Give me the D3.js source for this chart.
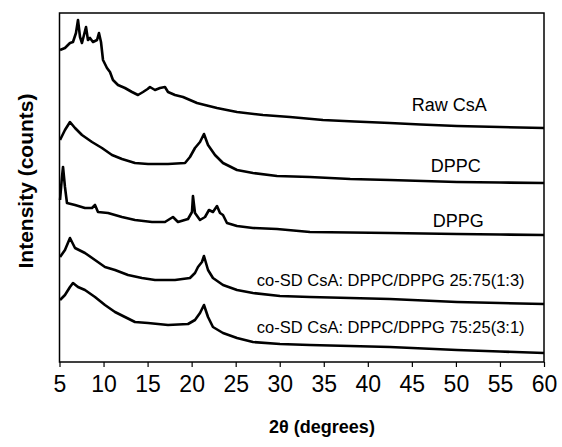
<!DOCTYPE html>
<html>
<head>
<meta charset="utf-8">
<script src="https://cdn.jsdelivr.net/npm/d3@7"></script>
<style>
    body { margin: 0; background: #fff; }
    svg { font-family: "Liberation Sans", Arial, sans-serif; }
</style>
</head>
<body>
<div id="chart"></div>
<script>
// [2θ, counts], each trace already offset in the stack
const rawCsA = [
    [5.06, 3120], [5.62, 3140], [6.19, 3190], [6.53, 3200], [6.87, 3290], [7.10, 3420],
    [7.33, 3250], [7.55, 3190], [7.78, 3270], [8.01, 3350], [8.23, 3220], [8.46, 3240],
    [8.80, 3200], [9.26, 3220], [9.48, 3290], [9.71, 3200], [9.94, 3020], [10.39, 2940],
    [10.73, 2900], [11.07, 2820], [11.64, 2770], [12.43, 2740], [13.23, 2700], [13.91, 2670],
    [14.48, 2700], [15.00, 2730], [15.27, 2750], [15.84, 2720], [16.41, 2740], [16.97, 2750],
    [17.32, 2700], [18.11, 2670], [19.02, 2650], [20.61, 2590], [21.50, 2570], [22.88, 2540],
    [24.00, 2520], [25.15, 2500], [28.10, 2470], [31.16, 2450], [34.91, 2420], [38.50, 2405],
    [42.51, 2390], [46.00, 2375], [50.12, 2360], [55.00, 2350], [60, 2340]
];
const dppc = [
    [5.06, 2220], [5.62, 2320], [6.19, 2400], [6.76, 2340], [7.55, 2270], [8.69, 2200],
    [9.82, 2140], [10.96, 2070], [12.09, 2030], [13.57, 1990], [15.05, 1980], [17.32, 1980],
    [19.25, 1990], [19.81, 2050], [20.38, 2140], [20.95, 2200], [21.40, 2280], [21.86, 2170],
    [22.65, 2070], [23.56, 1990], [25.15, 1920], [26.96, 1890], [29.69, 1860], [33.43, 1850],
    [38.00, 1830], [42.51, 1820], [50.12, 1800], [55.00, 1795], [60, 1790]
];
const dppg = [
    [5.06, 1620], [5.28, 1850], [5.40, 1950], [5.62, 1750], [5.85, 1590], [6.76, 1570],
    [7.89, 1540], [8.69, 1540], [9.03, 1570], [9.37, 1500], [10.51, 1490], [12.09, 1450],
    [13.57, 1420], [15.50, 1400], [16.97, 1400], [17.88, 1450], [18.45, 1400], [19.59, 1430],
    [20.04, 1500], [20.15, 1660], [20.38, 1490], [20.95, 1420], [21.52, 1450], [21.97, 1520],
    [22.42, 1500], [22.88, 1560], [23.22, 1490], [23.56, 1470], [24.01, 1390], [25.15, 1360],
    [26.96, 1340], [29.69, 1330], [33.43, 1300], [38.00, 1295], [42.51, 1290], [50.12, 1280],
    [55.00, 1275], [60, 1270]
];
const coSD13 = [
    [5.06, 1050], [5.62, 1120], [6.19, 1240], [6.76, 1140], [7.89, 1090], [9.03, 1020],
    [10.16, 950], [11.30, 920], [12.78, 870], [14.36, 840], [15.84, 820], [18.11, 820],
    [19.81, 840], [20.38, 890], [20.72, 950], [21.17, 1000], [21.40, 1060], [21.86, 920],
    [22.42, 840], [23.56, 770], [25.15, 720], [26.96, 690], [30.03, 660], [33.43, 650],
    [38.00, 640], [42.51, 630], [50.12, 600], [55.00, 590], [60, 580]
];
const coSD31 = [
    [5.06, 620], [5.62, 670], [6.19, 750], [6.53, 790], [7.10, 750], [7.89, 720],
    [9.03, 650], [10.16, 570], [11.30, 500], [12.43, 450], [13.57, 400], [15.05, 390],
    [17.32, 370], [19.59, 380], [20.38, 420], [20.95, 490], [21.40, 570], [21.86, 450],
    [22.42, 350], [23.56, 290], [25.15, 240], [26.96, 200], [30.03, 180], [33.43, 170],
    [38.00, 160], [42.51, 150], [50.12, 120], [55.00, 105], [60, 90]
];

const traceNames = ["Raw CsA", "DPPC", "DPPG",
    "co-SD CsA: DPPC/DPPG 25:75(1:3)", "co-SD CsA: DPPC/DPPG 75:25(3:1)"];
const traces = [rawCsA, dppc, dppg, coSD13, coSD31];
// counts level of each trace label baseline
const labelLevels = [2510, 1900, 1350, 760, 290];
const xTicks = [5, 10, 15, 20, 25, 30, 35, 40, 45, 50, 55, 60];

const size = { width: 562, height: 447 };
const margin = { top: 13, right: 18, bottom: 85, left: 59.5 };
const width = size.width - margin.left - margin.right;
const height = size.height - margin.top - margin.bottom;

const svg = d3.select("#chart")
    .append("svg")
    .attr("width", size.width)
    .attr("height", size.height);

const g = svg.append("g")
    .attr("transform", `translate(${margin.left},${margin.top})`);

const xScale = d3.scaleLinear().domain([5, 60]).range([0, width]);
const yScale = d3.scaleLinear().domain([0, 3490]).range([height, 0]);

const line = d3.line()
    .x(d => xScale(d[0]))
    .y(d => yScale(d[1]));

g.selectAll(".trace")
    .data(traces)
    .join("path")
    .attr("class", "trace")
    .attr("d", line)
    .attr("fill", "none")
    .attr("stroke", "#000")
    .attr("stroke-width", 2.6)
    .attr("stroke-linejoin", "round");

g.selectAll(".traceLabel")
    .data(traceNames)
    .join("text")
    .attr("class", "traceLabel")
    .attr("text-anchor", "end")
    .attr("x", (d, i) => i < 3 ? xScale(53.5) + [0, -6, -3][i] : xScale(57.8))
    .attr("y", (d, i) => yScale(labelLevels[i]))
    .style("font-size", (d, i) => i < 3 ? "18px" : "16.5px")
    .text(d => d);

// frame
g.append("rect")
    .attr("width", width)
    .attr("height", height)
    .attr("fill", "none")
    .attr("stroke", "#000")
    .attr("stroke-width", 1.5);

const xAxis = g.append("g")
    .attr("transform", `translate(0,${height})`)
    .call(d3.axisBottom(xScale).tickValues(xTicks).tickSize(5).tickPadding(9).tickSizeOuter(0));
xAxis.select(".domain").remove();
xAxis.selectAll("line").attr("stroke-width", 1.2);
xAxis.selectAll("text")
    .style("font-size", "23px")
    .style("font-family", "\"Liberation Sans\", Arial, sans-serif")
    .attr("fill", "#000");

svg.append("text")
    .attr("x", 322)
    .attr("y", 433)
    .attr("text-anchor", "middle")
    .style("font-size", "18px")
    .style("font-weight", "bold")
    .text("2θ (degrees)");

svg.append("text")
    .attr("transform", "rotate(-90)")
    .attr("x", -181)
    .attr("y", 33)
    .attr("text-anchor", "middle")
    .style("font-size", "21px")
    .style("font-weight", "bold")
    .text("Intensity (counts)");
</script>
</body>
</html>
